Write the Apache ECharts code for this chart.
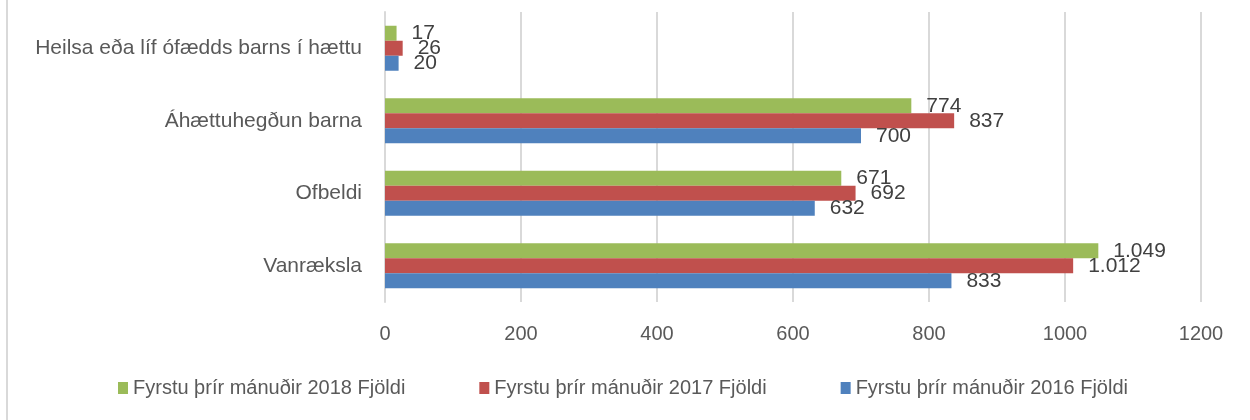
<!DOCTYPE html>
<html lang="is">
<head>
    <meta charset="UTF-8">
    <title>Fjöldi tilkynninga</title>
    <script src="https://cdn.jsdelivr.net/npm/echarts@6/dist/echarts.min.js"></script>
    <style>
        html,body{
            margin:0;
            padding:0;
            background:#fff;
        }
        #chart{
            width:1250px;
            height:420px;
        }
        .edge{
            position:absolute;
            left:6px;
            top:0;
            width:2px;
            height:420px;
            background:#d9d9d9;
        }
    </style>
</head>
<body>
    <div class="edge"></div>
    <div id="chart"></div>
    <script>
        // flokkar, neðst upp
        var categories = ['Vanræksla', 'Ofbeldi', 'Áhættuhegðun barna', 'Heilsa eða líf ófædds barns í hættu'];
        var seriesNames = ['Fyrstu þrír mánuðir 2018 Fjöldi', 'Fyrstu þrír mánuðir 2017 Fjöldi', 'Fyrstu þrír mánuðir 2016 Fjöldi'];
        var values2018 = [1049, 671, 774, 17];
        var values2017 = [1012, 692, 837, 26];
        var values2016 = [833, 632, 700, 20];
        var colors = ['#9BBB59', '#C0504D', '#4F81BD'];
        var xTicks = [0, 200, 400, 600, 800, 1000, 1200];

        var font = 'Liberation Sans';

        function fmt(v){
            // íslenskur þúsundaskiptir
            return String(v).replace(/\B(?=(\d{3})+(?!\d))/g, '.');
        }

        function makeSeries(name, data, color){
            return {
                name: name,
                type: 'bar',
                data: data,
                barWidth: 15,
                barGap: '0%',
                itemStyle: { color: color },
                label: {
                    show: true,
                    position: 'right',
                    distance: 15,
                    color: '#404040',
                    fontFamily: font,
                    fontSize: 21,
                    formatter: function(p){ return fmt(p.value); }
                }
            };
        }

        var chart = echarts.init(document.getElementById('chart'));
        var option = {
            animation: false,
            color: colors,
            grid: {
                left: 385,
                right: 49,
                top: 12,
                bottom: 118
            },
            legend: {
                data: seriesNames,
                left: 113,
                top: 373,
                icon: 'rect',
                itemWidth: 10,
                itemHeight: 12,
                itemGap: 74,
                textStyle: {
                    color: '#595959',
                    fontFamily: font,
                    fontSize: 20
                }
            },
            xAxis: {
                type: 'value',
                min: xTicks[0],
                max: xTicks[xTicks.length - 1],
                interval: 200,
                axisLine: { show: false },
                axisTick: { show: false },
                axisLabel: {
                    color: '#595959',
                    fontFamily: font,
                    fontSize: 20,
                    margin: 22,
                    formatter: function(v){ return String(v); }
                },
                splitLine: {
                    lineStyle: { color: '#d9d9d9', width: 2 }
                }
            },
            yAxis: {
                type: 'category',
                data: categories,
                axisLine: { show: true, lineStyle: { color: '#d9d9d9', width: 2 } },
                axisTick: { show: false },
                axisLabel: {
                    color: '#595959',
                    fontFamily: font,
                    fontSize: 21,
                    margin: 23
                }
            },
            series: [
                makeSeries(seriesNames[0], values2018, colors[0]),
                makeSeries(seriesNames[1], values2017, colors[1]),
                makeSeries(seriesNames[2], values2016, colors[2])
            ]
        };
        chart.setOption(option);
    </script>
</body>
</html>
